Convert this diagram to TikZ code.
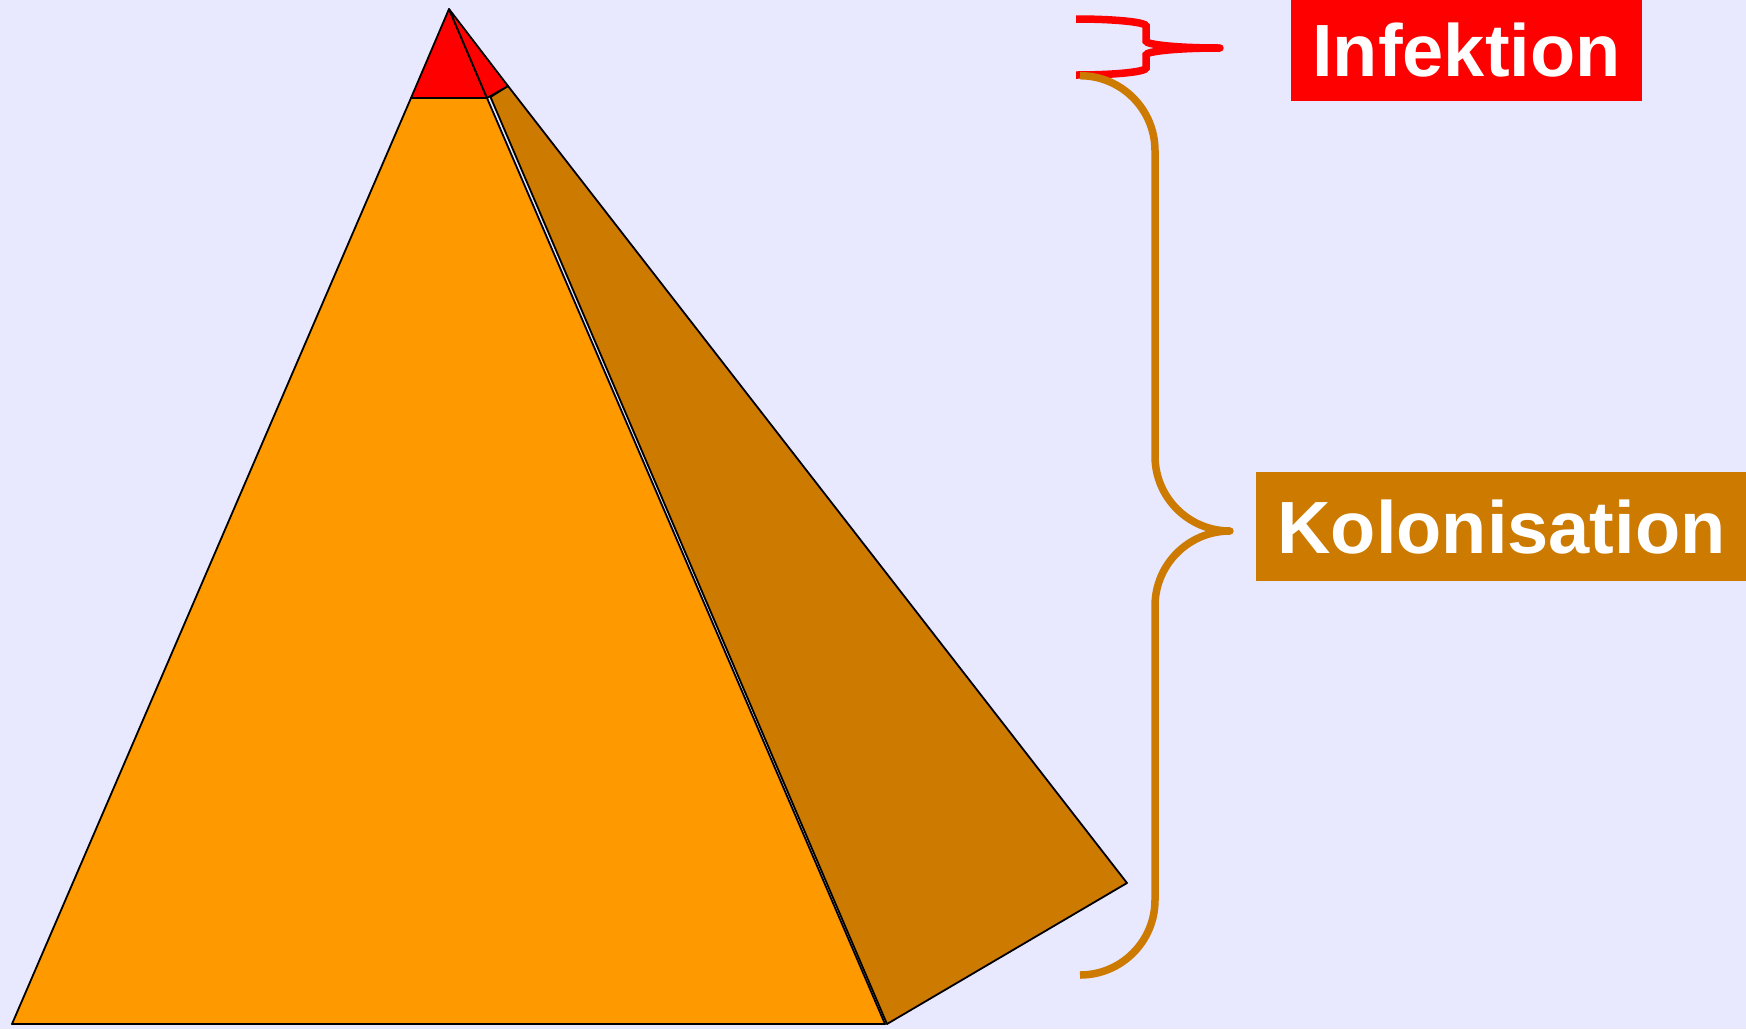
\documentclass[tikz,border=0pt]{standalone}
\usepackage{fontspec}
\setmainfont{Liberation Sans}
\definecolor{bgc}{RGB}{232,232,255}
\definecolor{frontc}{RGB}{255,153,0}
\definecolor{sidec}{RGB}{204,122,0}
\definecolor{capc}{RGB}{255,0,0}
\tikzset{
  face/.style={draw=black, line width=1.8pt, line join=round},
  bracepath/.style={line width=7.5pt, line cap=butt},
  labelbox/.style={rectangle, inner sep=0pt, text=white, text height=53.5pt, text depth=0pt,
    font=\fontsize{74}{80}\selectfont\bfseries, minimum height=102pt}
}
\begin{document}
\begin{tikzpicture}[x=1pt,y=1pt]
\useasboundingbox (0,0) rectangle (1746,-1029);
\fill[bgc] (0,0) rectangle (1746,-1029);
% pyramid coordinates
\coordinate (apex) at (449,-9);
\coordinate (bl) at (12,-1024);
\coordinate (bm) at (885,-1024);
\coordinate (br) at (1127,-883);
\coordinate (cl) at (411,-98);
\coordinate (cm) at (487,-98);
\coordinate (cr) at (508,-86);
% front face
\filldraw[face, fill=frontc] (bl) -- (cl) -- (cm) -- (bm) -- cycle;
\filldraw[face, fill=capc] (apex) -- (cl) -- (cm) -- cycle;
% side face
\filldraw[face, fill=sidec] (490.5,-97) -- (cr) -- (br) -- (887,-1024) -- cycle;
\filldraw[face, fill=capc] (apex) -- (cm) -- (cr) -- cycle;
% Infektion brace
\coordinate (ibt) at (1076,-19);
\draw[bracepath, capc] (ibt) arc[start angle=90, end angle=0, x radius=70, y radius=7]
  -- (1146,-41) arc[start angle=180, end angle=270, x radius=74, y radius=7]
  coordinate (itip)
  arc[start angle=90, end angle=180, x radius=74, y radius=7]
  -- (1146,-68) arc[start angle=0, end angle=-90, x radius=70, y radius=7];
\fill[capc] (itip) circle (3.7pt);
% Kolonisation brace
\coordinate (kbt) at (1080,-75.7);
\draw[bracepath, sidec] (kbt) arc[start angle=90, end angle=0, radius=75]
  -- (1155,-456) arc[start angle=180, end angle=270, radius=75]
  coordinate (ktip)
  arc[start angle=90, end angle=180, radius=75]
  -- (1155,-900) arc[start angle=0, end angle=-90, radius=75];
\fill[sidec] (ktip) circle (3.7pt);
% labels
\node[labelbox, fill=capc, minimum width=351pt] (infektion) at (1466.5,-50) {Infektion};
\node[labelbox, fill=sidec, minimum width=491pt, minimum height=108.5pt] (kolonisation) at (1501.5,-526.5) {Kolonisation};
\end{tikzpicture}
\end{document}
